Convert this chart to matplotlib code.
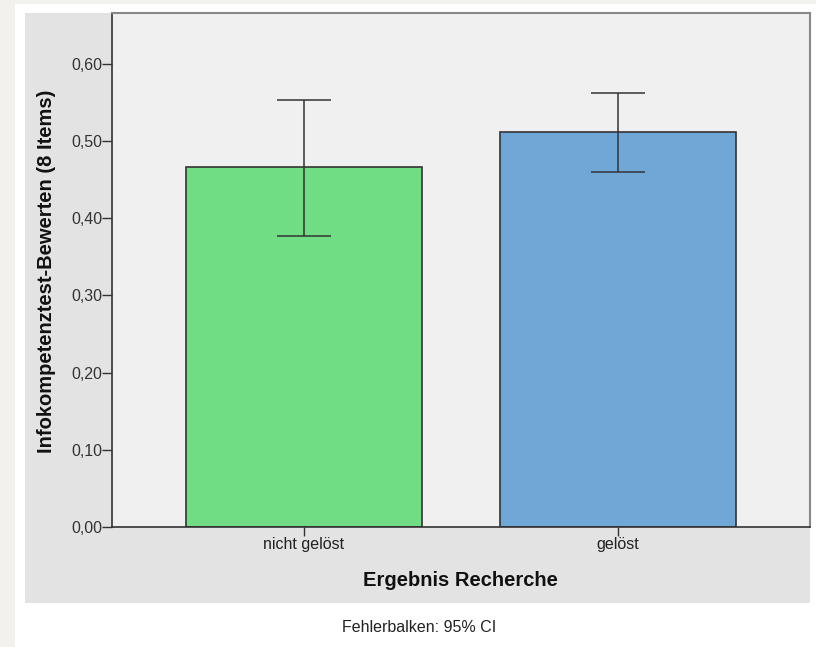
import matplotlib.pyplot as plt
from matplotlib.patches import Rectangle

plt.rcParams['font.family'] = ['Liberation Sans', 'DejaVu Sans']

# Mittelwerte und 95%-Konfidenzintervalle
gruppen = ['nicht gelöst', 'gelöst']
mittelwerte = [0.466, 0.5115]
ci_unten = [0.3775, 0.460]
ci_oben = [0.553, 0.5624]
farben = ['#70dd84', '#6fa8d6']
y_ticks = [0.0, 0.1, 0.2, 0.3, 0.4, 0.5, 0.6]

fig = plt.figure(figsize=(8.16, 6.47), dpi=100, facecolor='white')

# Rahmen wie im SPSS-Viewer
fig.patches.append(Rectangle((0, 0), 15/816, 1, transform=fig.transFigure,
                             facecolor='#f2f1ee', edgecolor='none', zorder=-2))
fig.patches.append(Rectangle((0, 1 - 4/647), 1, 4/647, transform=fig.transFigure,
                             facecolor='#f2f1ee', edgecolor='none', zorder=-2))
fig.patches.append(Rectangle((25/816, 1 - 603/647), (810 - 25)/816, (603 - 13)/647,
                             transform=fig.transFigure, facecolor='#e3e3e3',
                             edgecolor='none', zorder=-2))

ax = fig.add_axes([112/816, 1 - 527/647, (810 - 112)/816, (527 - 13)/647])
ax.set_zorder(1)
ax.set_facecolor('#f0f0f0')

x = list(range(len(gruppen)))
fehler = [[m - u for m, u in zip(mittelwerte, ci_unten)],
          [o - m for m, o in zip(mittelwerte, ci_oben)]]
ax.bar(x, mittelwerte, width=0.75, color=farben, edgecolor='#333333', linewidth=1.2, zorder=2)
ax.errorbar(x, mittelwerte, yerr=fehler, fmt='none', ecolor='#333333',
            elinewidth=1.1, capsize=19.5, capthick=1.1, zorder=3)

ax.set_xlim(-0.611, 1.611)
ax.set_ylim(0, 0.666)
ax.set_yticks(y_ticks)
ax.set_yticklabels([f'{v:.2f}'.replace('.', ',') for v in y_ticks])
ax.set_xticks(x)
ax.set_xticklabels(gruppen)
ax.tick_params(axis='y', length=7, width=1, color='#333333', labelsize=11.5,
               labelcolor='#333333', pad=0)
ax.tick_params(axis='x', length=6.5, width=1, color='#333333', labelsize=11.5,
               labelcolor='#222222', pad=1)

for s in ['left', 'bottom']:
    ax.spines[s].set_color('#333333')
    ax.spines[s].set_linewidth(1.2)
for s in ['top', 'right']:
    ax.spines[s].set_color('#888888')
    ax.spines[s].set_linewidth(1.5)

fig.text(460/816, 1 - 581/647, 'Ergebnis Recherche', ha='center', va='center',
         fontsize=14.5, fontweight='bold', color='#111111')
fig.text(47/816, 1 - 271/647, 'Infokompetenztest-Bewerten (8 Items)', ha='center',
         va='center', rotation=90, fontsize=14.5, fontweight='bold', color='#111111')
fig.text(419/816, 1 - 628/647, 'Fehlerbalken: 95% CI', ha='center', va='center',
         fontsize=11.5, color='#222222')

fig.savefig('out.png', dpi=100, facecolor='white')
